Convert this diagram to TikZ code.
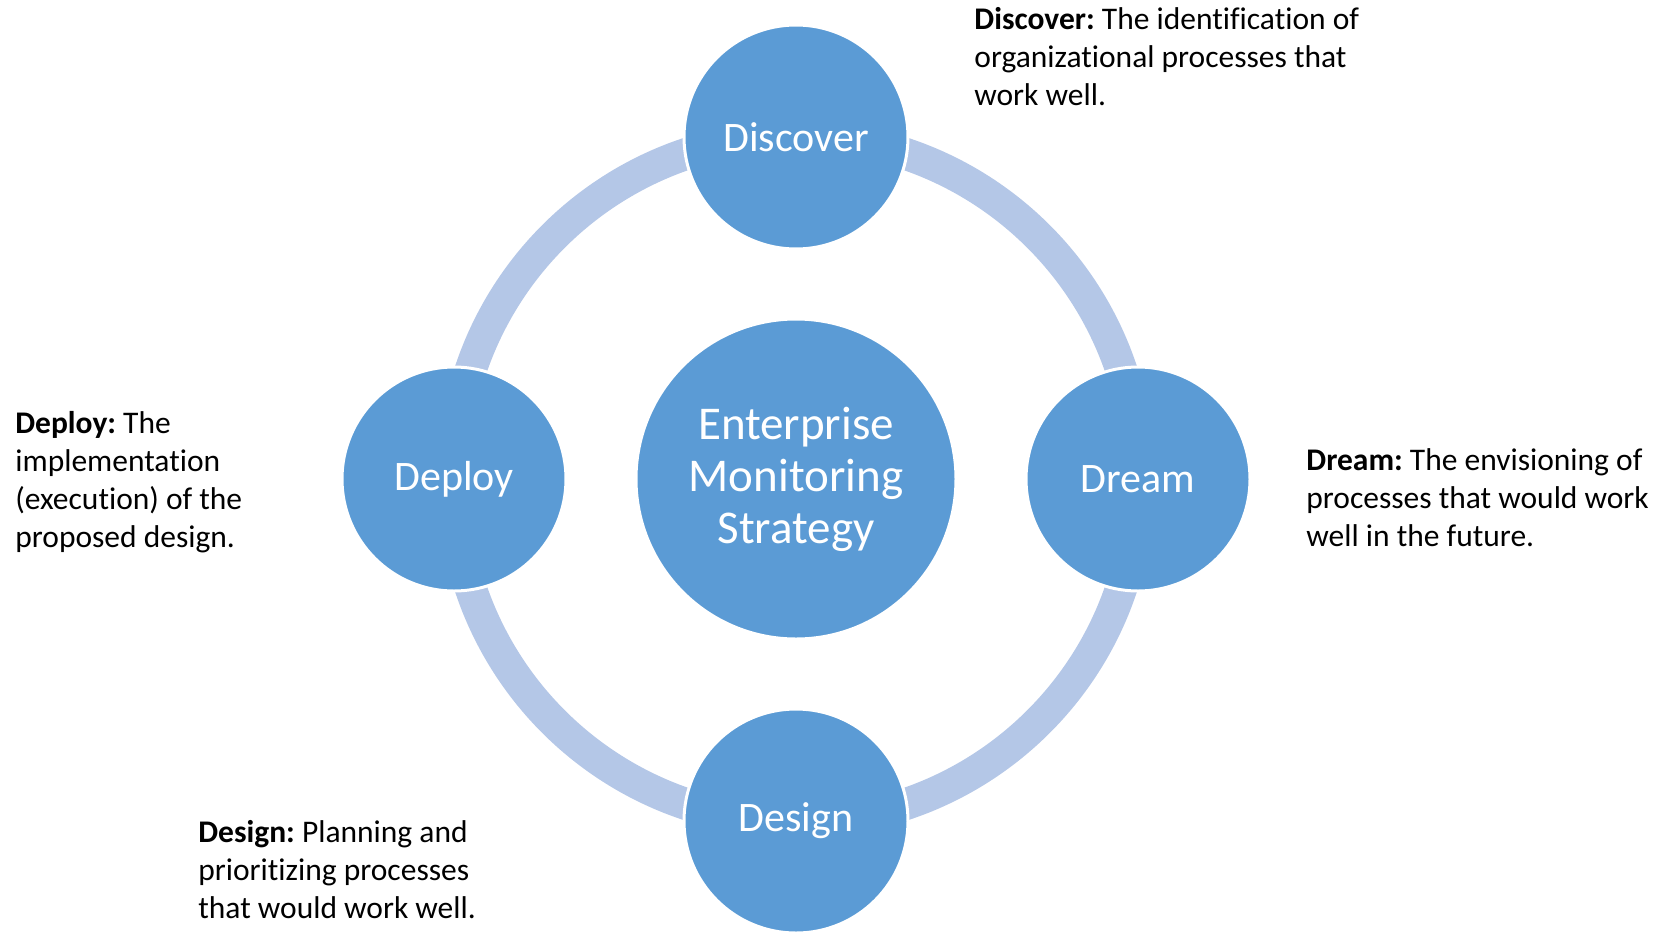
\documentclass[tikz,border=0pt]{standalone}
\usepackage{fontspec}
\setmainfont[Ligatures=NoCommon]{Carlito}
\usetikzlibrary{positioning}
\frenchspacing
\definecolor{phaseblue}{RGB}{91,155,213}
\definecolor{ringblue}{RGB}{180,199,231}
\tikzset{basic/.style={circle,draw=white,line width=1.5pt,fill=phaseblue,text=white,inner sep=0pt,align=center}}
\tikzset{hub/.style={basic,minimum size=160pt,font=\fontsize{23.5}{26}\selectfont}}
\tikzset{phase/.style={basic,minimum size=112pt,font=\fontsize{21}{25}\selectfont}}
\tikzset{note/.style={anchor=base west,inner sep=0pt,align=left,font=\fontsize{15.75}{19}\selectfont}}
\tikzset{ring/.style={draw=ringblue,line width=16pt}}

\begin{document}
\begin{tikzpicture}
  \useasboundingbox (-398pt,-227pt) rectangle (438.5pt,239.5pt);
  \node[hub] (center) {Enterprise\\Monitoring\\Strategy};
  % the cycle behind the four phases
  \draw[ring] (center.center) circle (171.5pt);
  \node[phase,above=33.5pt of center] (discover) {Discover};
  \node[phase,right=33.5pt of center] (dream) {Dream};
  \node[phase,below=33.5pt of center] (design) {Design};
  \node[phase,left=33.5pt of center] (deploy) {Deploy};
  % descriptions (placed at the baseline of their last line)
  \node[note] (discovertext) at (89pt,187pt) {\textbf{Discover:} The identification of\\organizational processes that\\work well.};
  \node[note] (dreamtext) at (255pt,-33.5pt) {\textbf{Dream:} The envisioning of\\processes that would work\\well in the future.};
  \node[note] (designtext) at (-299pt,-219.5pt) {\textbf{Design:} Planning and\\prioritizing processes\\that would work well.};
  \node[note] (deploytext) at (-390.5pt,-34pt) {\textbf{Deploy:} The\\implementation\\(execution) of the\\proposed design.};
\end{tikzpicture}
\end{document}
